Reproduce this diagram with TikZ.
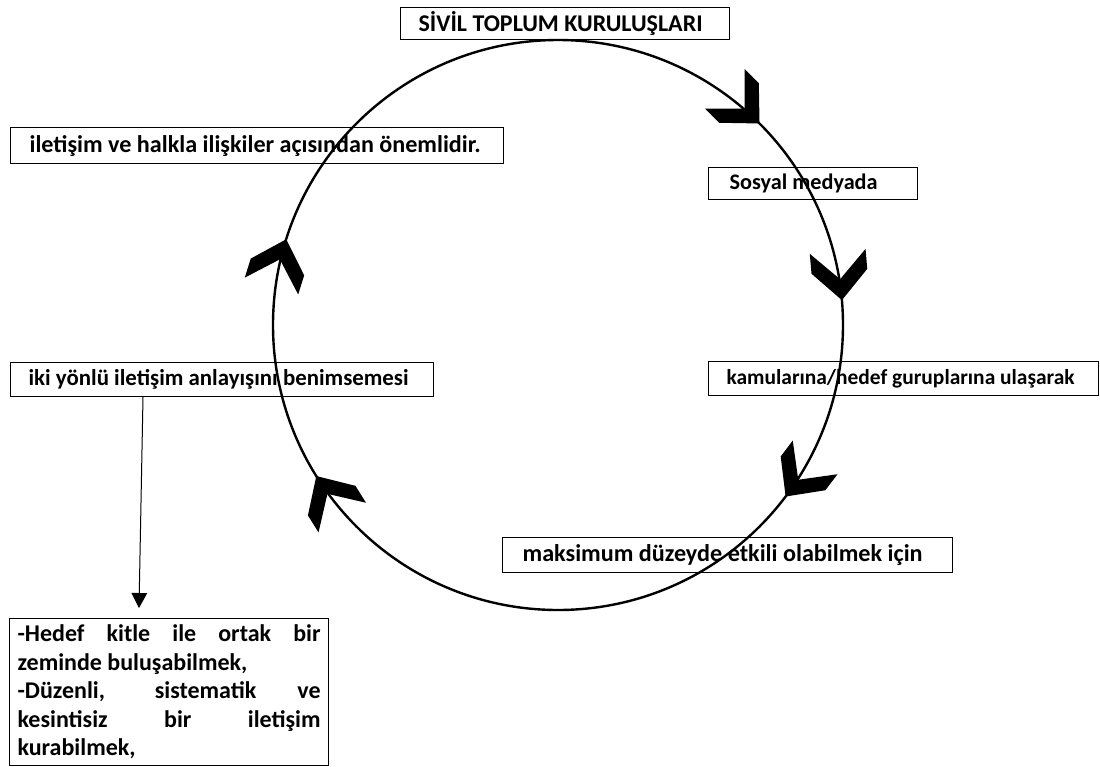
\documentclass[tikz,border=0pt]{standalone}
\usepackage{graphicx}
\usepackage{fontspec}
\setmainfont{Carlito}
\usetikzlibrary{arrows.meta}

\newcommand\fsz[1]{\fontsize{#1}{14.25}\selectfont\bfseries}

\tikzset{
  box/.style={draw,line width=0.6pt,anchor=north west,inner xsep=9pt,inner ysep=0pt,align=flush left},
  chev/.pic={\fill (0,0) -- (-29,28) -- (-49,28) -- (-21,0) -- (-49,-28) -- (-29,-28) -- cycle;}
}

\begin{document}
\begin{tikzpicture}[x=0.5pt,y=0.5pt,font=\fsz{12}]
	\useasboundingbox (0,0) rectangle (1100,-767);
	
	% the cycle
	\coordinate (M) at (558,-325);
	\draw[line width=1.2pt] (M) circle (285);
	\foreach \a in {45,5,-37,212,162.5}
		\path (M) ++(\a:285) pic[rotate=\a-90] {chev};
	
	\begin{scope}[every node/.style={box,minimum height=17pt}]
		\node (stk) at (400,-7) [text width=146.5pt,minimum height=16pt] {\resizebox{142pt}{!}{SİVİL TOPLUM KURULUŞLARI}};
		\node (sos) at (708,-167) [inner xsep=10.5pt,text width=83.5pt,minimum height=16pt] {\resizebox{74pt}{!}{Sosyal medyada}};
		\node (kam) at (708,-361) [text width=177pt] {\resizebox{174pt}{!}{kamularına/hedef guruplarına ulaşarak}};
		\node (mak) at (502,-537) [inner xsep=10pt,text width=205pt,minimum height=17.5pt] {\resizebox{200pt}{!}{maksimum düzeyde etkili olabilmek için}};
		\node (iki) at (10,-362) [text width=193.5pt] {\resizebox{190pt}{!}{iki yönlü iletişim anlayışını benimsemesi}};
		\node (ilt) at (10,-127) [inner xsep=9.5pt,text width=227.5pt,minimum height=18pt] {\resizebox{225.5pt}{!}{iletişim ve halkla ilişkiler açısından önemlidir.}};
	\end{scope}
	\node (hdf) at (9,-618) [box,text width=151.5pt,inner xsep=4pt,inner ysep=3pt,minimum height=73.5pt,align=justify]
		{-Hedef kitle ile ortak bir\linebreak zeminde buluşabilmek,\\ -Düzenli, sistematik ve\linebreak kesintisiz bir iletişim\linebreak kurabilmek,};
	
	\coordinate (tip) at (139,-608);
	\draw[line width=0.5pt,-{Triangle[width=7.8pt,length=7.5pt]}] ([xshift=66.5pt]iki.south west) -- (tip);
\end{tikzpicture}
\end{document}
